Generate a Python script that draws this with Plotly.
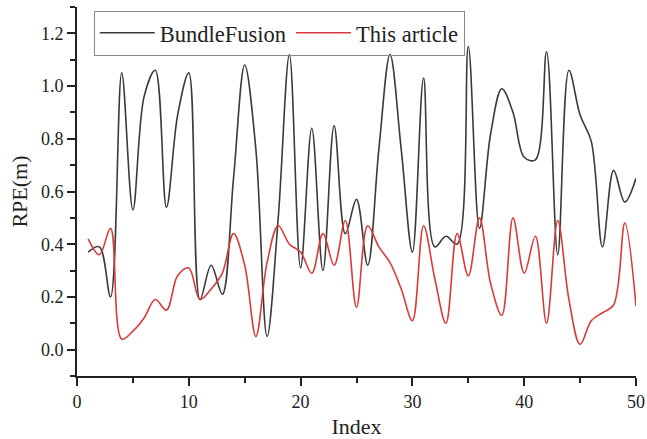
import plotly.graph_objects as go

index = list(range(1, 51))
bundlefusion = [0.37, 0.39, 0.20, 1.05, 0.53, 0.96, 1.06, 0.54, 0.89, 1.05,
                0.19, 0.32, 0.21, 0.65, 1.08, 0.76, 0.05, 0.50, 1.12, 0.31,
                0.84, 0.30, 0.85, 0.44, 0.57, 0.32, 0.76, 1.12, 0.76, 0.37,
                1.03, 0.39, 0.43, 0.40, 1.15, 0.46, 0.82, 0.99, 0.90, 0.73,
                0.72, 1.13, 0.36, 1.06, 0.89, 0.79, 0.39, 0.68, 0.56, 0.65]
this_article = [0.42, 0.36, 0.46, 0.04, 0.07, 0.12, 0.19, 0.15, 0.28, 0.31,
                0.19, 0.23, 0.29, 0.44, 0.32, 0.05, 0.33, 0.47, 0.40, 0.37,
                0.29, 0.44, 0.32, 0.49, 0.16, 0.47, 0.39, 0.33, 0.23, 0.11,
                0.47, 0.27, 0.10, 0.44, 0.28, 0.50, 0.25, 0.13, 0.50, 0.29,
                0.43, 0.10, 0.49, 0.19, 0.02, 0.11, 0.14, 0.17, 0.48, 0.165]

font_family = "Liberation Serif, Times New Roman, serif"
ink = "#222"

fig = go.Figure()
fig.add_trace(go.Scatter(x=index, y=bundlefusion, mode="lines", name="BundleFusion",
                         line=dict(color="#3a3a3a", width=1.6, shape="spline", smoothing=1.0)))
fig.add_trace(go.Scatter(x=index, y=this_article, mode="lines", name="This article",
                         line=dict(color="#d93a3a", width=1.6, shape="spline", smoothing=1.0)))

fig.update_layout(
    width=647, height=439,
    margin=dict(l=77, r=11, t=7, b=63),
    paper_bgcolor="white", plot_bgcolor="white",
    font=dict(family=font_family, color=ink),
    showlegend=True,
    legend=dict(orientation="h", x=0.03, y=0.99, xanchor="left", yanchor="top",
                bordercolor="#888", borderwidth=1, bgcolor="rgba(255,255,255,0)",
                font=dict(size=22.5, family=font_family, color=ink),
                itemwidth=55, tracegroupgap=0),
    xaxis=dict(range=[0, 50], showgrid=False, zeroline=False, showline=True, automargin=False,
               linecolor=ink, linewidth=2, ticks="outside", tickwidth=2,
               ticklen=8, tickcolor=ink, dtick=10, tick0=0,
               tickfont=dict(size=18, family=font_family, color=ink),
               minor=dict(ticks="outside", dtick=5, ticklen=5, tickcolor=ink, tickwidth=2),
               title=dict(text="Index", font=dict(size=22, family=font_family, color=ink), standoff=8)),
    yaxis=dict(range=[-0.1, 1.3], showgrid=False, zeroline=False, showline=True, automargin="width",
               linecolor=ink, linewidth=2, ticks="outside", tickwidth=2,
               ticklen=8, tickcolor=ink, dtick=0.2, tick0=0, tickformat=".1f",
               tickfont=dict(size=18, family=font_family, color=ink),
               minor=dict(ticks="outside", dtick=0.1, ticklen=5, tickcolor=ink, tickwidth=2),
               title=dict(text="RPE(m)", font=dict(size=22, family=font_family, color=ink), standoff=7)),
)

fig.write_html("out.html", config={"displayModeBar": False},
               post_script="document.body.style.margin='0px';")
